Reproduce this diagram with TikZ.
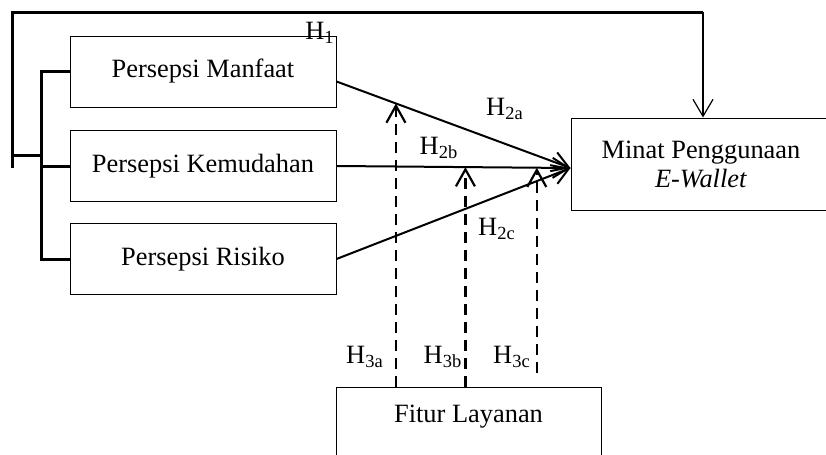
\documentclass[tikz,border=0pt]{standalone}
\usepackage{fontspec}
\setmainfont{Liberation Serif}
\usetikzlibrary{arrows.meta, positioning, calc}
\tikzset{
  vbox/.style={draw, line width=0.5pt, minimum width=133pt, minimum height=35.5pt,
               inner sep=2pt},
  harr/.style={line width=1pt, -{Straight Barb[length=8pt, width=10pt]}},
  darr/.style={line width=1.1pt, dash pattern=on 5.5pt off 3.5pt,
               -{Straight Barb[length=8.5pt, width=9.5pt]}},
  brk/.style={line width=1.5pt},
  hlbl/.style={inner sep=0pt},
}

\begin{document}
\begin{tikzpicture}[x=0.5pt, y=-0.5pt, font=\fontsize{13.2}{14.5}\selectfont]
  \useasboundingbox (0,0) rectangle (826,455);
  \clip (0,0) rectangle (826,455);

  % variabel bebas (kiri)
  \node[vbox] (pm) at (203,71.5) {Persepsi Manfaat};
  \node[vbox] (pk) at (203,166) {Persepsi Kemudahan};
  \node[vbox] (pr) at (203,259) {Persepsi Risiko};

  % variabel terikat dan moderasi
  \node[vbox, minimum width=130pt, minimum height=46pt, align=center] (mpe) at (701,164)
    {Minat Penggunaan\\\textit{E-Wallet}};
  \node[vbox, minimum width=132.5pt, minimum height=0pt, anchor=north,
        text height=15.5pt, text depth=20pt] (fl) at (468.5,387) {Fitur Layanan};

  % H2: panah ke minat
  \draw[harr] ([yshift=-5pt]pm.east) -- ([yshift=-2pt]mpe.west) coordinate[pos=0.254] (m1);
  \draw[harr] (pk.east) -- ([yshift=-2pt]mpe.west)
    coordinate[pos=0.551] (m2) coordinate[pos=0.856] (m3);
  \draw[harr] (pr.east) -- ([yshift=-2pt]mpe.west);

  % H3: efek moderasi (putus-putus)
  \draw[darr] (fl.north -| m1) -- (m1);
  \draw[darr] (fl.north -| m2) -- (m2);
  \draw[darr] ($(fl.north -| m3)+(0,-14)$) -- (m3);

  % H1: kurung kiri dan garis atas
  \coordinate (bk) at (41,155);
  \coordinate (lp) at (12,168);
  \coordinate (tr) at (703,12);
  \draw[brk] (pm.west) -| (bk |- pr.west) -- (pr.west);
  \draw[brk] (pk.west) -- (bk |- pk.west);
  \draw[brk] (bk) -- (bk -| lp);
  \draw[brk] (lp) |- (tr);
  \draw[line width=0.6pt, -{Straight Barb[length=8.5pt, width=10pt]}] (tr) -- (tr |- mpe.north);

  % label hipotesis
  \node[hlbl] (h1) at (320,33) {H\textsubscript{1}};
  \node[hlbl] (h2a) at (505,109) {H\textsubscript{2a}};
  \node[hlbl] (h2b) at (439,148) {H\textsubscript{2b}};
  \node[hlbl] (h2c) at (497,229) {H\textsubscript{2c}};
  \node[hlbl] (h3a) at (365,357) {H\textsubscript{3a}};
  \node[hlbl] (h3b) at (443,357) {H\textsubscript{3b}};
  \node[hlbl] (h3c) at (512,357) {H\textsubscript{3c}};
\end{tikzpicture}
\end{document}
